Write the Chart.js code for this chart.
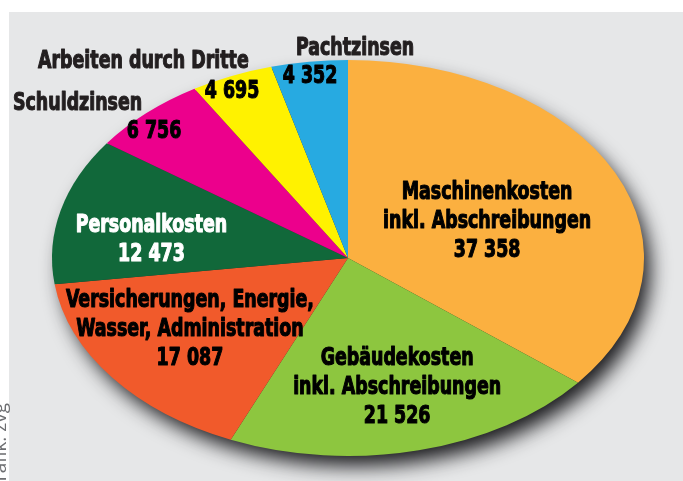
<!DOCTYPE html>
<html>
<head>
<meta charset="utf-8">
<script src="https://cdn.jsdelivr.net/npm/chart.js@4"></script>
<style>
  html, body { margin: 0; padding: 0; background: #fff; }
  #wrap { width: 683px; height: 481px; }
</style>
</head>
<body>
<div id="wrap"><canvas id="pie" width="683" height="481"></canvas></div>
<script>
const categories = [
  "Maschinenkosten\ninkl. Abschreibungen",
  "Gebäudekosten\ninkl. Abschreibungen",
  "Versicherungen, Energie,\nWasser, Administration",
  "Personalkosten",
  "Schuldzinsen",
  "Arbeiten durch Dritte",
  "Pachtzinsen"
];
const values = [37358, 21526, 17087, 12473, 6756, 4695, 4352];
const colors = ["#FBB040", "#8DC63F", "#F15A2B", "#11683A", "#EC008C", "#FFF200", "#27AAE1"];
const textColors = ["#000", "#000", "#000", "#fff", "#111", "#111", "#111"];
const sourceNote = "Grafik: zvg";

// label placement: inside labels relative to ellipse (fractions of radii),
// outside labels: name at left edge, value centered
const labelPos = [
  { inside: true, dx: 0.470, dy: -0.298 },
  { inside: true, dx: 0.166, dy: 0.540 },
  { inside: true, dx: -0.534, dy: 0.247 },
  { inside: true, dx: -0.664, dy: -0.131 },
  { inside: false, nx: 13, ny: 110, vx: 154, vy: 138 },
  { inside: false, nx: 38, ny: 68, vx: 232, vy: 98 },
  { inside: false, nx: 296, ny: 55, vx: 310, vy: 83 }
];

const stretchX = 296 / 198;  // ellipse squash
const FONT = "bold 24px 'Liberation Sans Narrow', 'DejaVu Sans Condensed', 'Liberation Sans', sans-serif";
const fmt = v => String(v).replace(/\B(?=(\d{3})+(?!\d))/g, " ");

function geom(chart) {
  const arc = chart.getDatasetMeta(0).data[0];
  return { cx: arc.x, cy: arc.y, ry: arc.outerRadius, rx: arc.outerRadius * stretchX };
}

function drawText(ctx, txt, x, y, align, color, k) {
  ctx.save();
  ctx.font = FONT;
  ctx.fillStyle = color;
  ctx.strokeStyle = color;
  ctx.lineWidth = 1.1;
  ctx.lineJoin = "round";
  ctx.textAlign = align;
  ctx.textBaseline = "alphabetic";
  ctx.translate(x, y);
  ctx.scale(k, 1);
  ctx.fillText(txt, 0, 0);
  ctx.strokeText(txt, 0, 0);
  ctx.restore();
}

const backdrop = {
  id: "backdrop",
  beforeDraw(chart) {
    const ctx = chart.ctx;
    ctx.save();
    ctx.fillStyle = "#fff";
    ctx.fillRect(0, 0, chart.width, chart.height);
    ctx.fillStyle = "#E6E7E8";
    ctx.fillRect(9, 12, chart.width - 9, chart.height - 12);
    ctx.translate(6, 403);
    ctx.rotate(-Math.PI / 2);
    ctx.font = "19px 'Open Sans', sans-serif";
    ctx.fillStyle = "#6D6E71";
    ctx.textAlign = "right";
    ctx.fillText(sourceNote, 0, 0);
    ctx.restore();
  }
};

const squash = {
  id: "squash",
  beforeDatasetsDraw(chart) {
    const ctx = chart.ctx;
    const g = geom(chart);
    ctx.save();
    ctx.save();
    ctx.shadowColor = "rgba(25,25,28,1)";
    ctx.shadowBlur = 20;
    ctx.shadowOffsetX = 8;
    ctx.shadowOffsetY = 12;
    ctx.fillStyle = "#2a2a2a";
    ctx.beginPath();
    ctx.ellipse(g.cx, g.cy, g.rx - 2, g.ry - 2, 0, 0, Math.PI * 2);
    ctx.fill();
    ctx.restore();
    ctx.translate(g.cx, g.cy);
    ctx.scale(stretchX, 1);
    ctx.translate(-g.cx, -g.cy);
  },
  afterDatasetsDraw(chart) {
    chart.ctx.restore();
  }
};

const labels = {
  id: "labels",
  afterDraw(chart) {
    const ctx = chart.ctx;
    const g = geom(chart);
    ctx.save();
    ctx.font = FONT;
    const k = 208 / ctx.measureText("inkl. Abschreibungen").width;
    ctx.restore();
    const lh = 29;
    categories.forEach((name, i) => {
      const p = labelPos[i];
      const col = textColors[i];
      if (p.inside) {
        const x = g.cx + p.dx * g.rx;
        let y = g.cy + p.dy * g.ry;
        name.split("\n").concat(fmt(values[i])).forEach(line => {
          drawText(ctx, line, x, y, "center", col, k);
          y += lh;
        });
      } else {
        drawText(ctx, name, p.nx, p.ny, "left", "#231F20", k);
        drawText(ctx, fmt(values[i]), p.vx, p.vy, "center", "#000", k);
      }
    });
  }
};

new Chart(document.getElementById("pie"), {
  type: "pie",
  data: {
    labels: categories,
    datasets: [{
      data: values,
      backgroundColor: colors,
      borderWidth: 0,
      hoverOffset: 0
    }]
  },
  options: {
    responsive: false,
    devicePixelRatio: 1,
    animation: false,
    layout: { padding: { top: 60, bottom: 25, left: 150, right: 137 } },
    plugins: {
      legend: { display: false },
      tooltip: { enabled: false }
    }
  },
  plugins: [backdrop, squash, labels]
});
</script>
</body>
</html>
